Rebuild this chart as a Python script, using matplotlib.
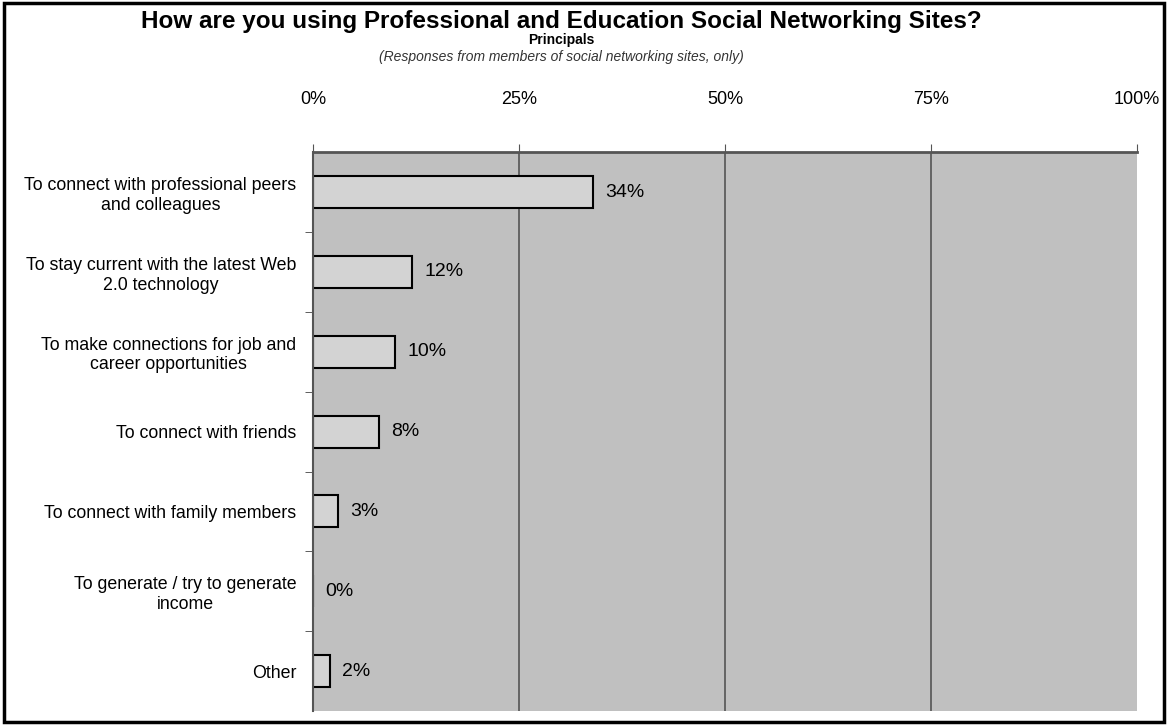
import matplotlib.pyplot as plt
from matplotlib.patches import Rectangle
import numpy as np

plt.rcParams['font.family'] = ['Liberation Sans', 'DejaVu Sans']

categories = ["To connect with professional peers\nand colleagues",
              "To stay current with the latest Web\n2.0 technology",
              "To make connections for job and\ncareer opportunities",
              "To connect with friends",
              "To connect with family members",
              "To generate / try to generate\nincome",
              "Other"]
values = [34, 12, 10, 8, 3, 0, 2]
xticks = [0, 25, 50, 75, 100]
xticklabels = ["0%", "25%", "50%", "75%", "100%"]

fig = plt.figure(figsize=(11.68, 7.25), dpi=100)
ax = fig.add_axes([0.268, 0.0193, 0.7055, 0.7707])

y = np.arange(len(categories))
ax.set_facecolor('#c0c0c0')
for xv in xticks[1:-1]:
    ax.axvline(xv, color='#555555', lw=1.2, zorder=1)
ax.barh(y, values, height=0.4, color='#d3d3d3', edgecolor='black', lw=1.5, zorder=2)
for yi, v in zip(y, values):
    ax.text(v + 1.5, yi, f"{v}%", va='center', ha='left', fontsize=14, zorder=3)

ax.set_xlim(0, 100)
ax.set_ylim(len(categories) - 0.5, -0.5)
ax.xaxis.tick_top()
ax.set_xticks(xticks)
ax.set_xticklabels(xticklabels, fontsize=13)
ax.tick_params(axis='x', direction='out', length=6, pad=26, color='#555555')
ax.set_yticks(y)
ax.set_yticklabels(categories, fontsize=12.8, multialignment='center')
ax.set_yticks(np.arange(len(categories) - 1) + 0.5, minor=True)
ax.tick_params(axis='y', which='major', length=0, pad=12)
ax.tick_params(axis='y', which='minor', length=6, color='#444444')
for s in ['right', 'bottom']:
    ax.spines[s].set_visible(False)
ax.spines['left'].set_color('#555555')
ax.spines['top'].set_color('#555555')
ax.spines['top'].set_linewidth(2)
ax.spines['left'].set_linewidth(1.5)

fig.text(0.481, 0.970, "How are you using Professional and Education Social Networking Sites?",
         ha='center', va='center', fontsize=17.5, fontweight='bold')
fig.text(0.481, 0.945, "Principals", ha='center', va='center', fontsize=10, fontweight='bold')
fig.text(0.481, 0.921, "(Responses from members of social networking sites, only)",
         ha='center', va='center', fontsize=10, style='italic', color='#333333')

fig.patches.append(Rectangle((0.003, 0.004), 0.994, 0.992, transform=fig.transFigure,
                             fill=False, edgecolor='black', lw=2.5))

fig.savefig("out.png", dpi=100)
